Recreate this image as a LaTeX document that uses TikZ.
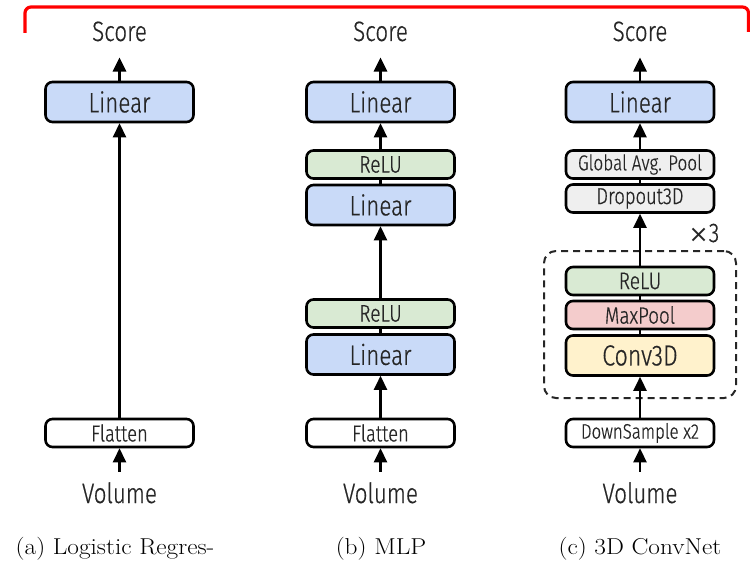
\documentclass[tikz,border=0pt]{standalone}
\usepackage{fontspec}
\usepackage{graphicx}
\usetikzlibrary{arrows.meta}
\newfontfamily\diagfont{Fira Sans Light}[FakeStretch=0.8, FakeBold=0.6]
\newfontfamily\symfont{DejaVu Sans}
\definecolor{linfill}{HTML}{C9DAF8}
\definecolor{relufill}{HTML}{D9EAD3}
\definecolor{poolfill}{HTML}{F4CCCC}
\definecolor{convfill}{HTML}{FFF2CC}
\definecolor{greyfill}{HTML}{EFEFEF}
\definecolor{inktext}{HTML}{262626}
\newcommand\fsz[1]{\diagfont\fontsize{#1}{#1}\selectfont}
\tikzset{
  blk/.style={draw=black, line width=2.6pt, rounded corners=7pt,
    minimum width=148pt, inner sep=0pt, text=inktext},
  bigblk/.style={blk, minimum height=40pt, font=\fsz{28}},
  smallblk/.style={blk, minimum height=28pt, font=\fsz{22}},
  toplabel/.style={font=\fsz{28}, text=inktext,
    anchor=base, inner xsep=0pt, inner ysep=16pt},
  botlabel/.style={font=\fsz{28}, text=inktext,
    anchor=base, inner xsep=0pt, inner ysep=10pt},
  arr/.style={line width=2.6pt, -{Triangle[width=13pt,length=14pt]}},
  lnk/.style={line width=2.6pt},
  caption/.style={font=\fontsize{23}{25}\selectfont, anchor=base, inner sep=0pt}
}
\begin{document}
\begin{tikzpicture}[x=1pt, y=-1pt]
\useasboundingbox (0,0) rectangle (750,567);

% red bracket across the top
\draw[red, line width=3.2pt, rounded corners=6pt] (25,33) -- (25,7) -- (748.5,7) -- (748.5,32);

% (a) logistic regression
\node[toplabel] (scoreA) at (119.5,41) {Score};
\node[bigblk, fill=linfill] (linA) at (119.5,102) {Linear};
\node[smallblk, fill=white, font=\fsz{23}] (flatA) at (119.5,433) {Flatten};
\node[botlabel] (volA) at (119.5,503) {Volume};
\draw[arr] (linA.north) -- (scoreA.south);
\draw[arr] (flatA.north) -- (linA.south);
\draw[arr] (volA.north) -- (flatA.south);

% (b) MLP
\node[toplabel] (scoreB) at (380.5,41) {Score};
\node[bigblk, fill=linfill] (linB2) at (380.5,102) {Linear};
\node[smallblk, fill=relufill, font=\fsz{24}] (reluB2) at (380.5,164.5) {ReLU};
\node[bigblk, fill=linfill] (linB1) at (380.5,205) {Linear};
\node[smallblk, fill=relufill, font=\fsz{24}] (reluB1) at (380.5,313.5) {ReLU};
\node[bigblk, fill=linfill] (linB0) at (380.5,354.5) {Linear};
\node[smallblk, fill=white, font=\fsz{23}] (flatB) at (380.5,433) {Flatten};
\node[botlabel] (volB) at (380.5,503) {Volume};
\draw[arr] (linB2.north) -- (scoreB.south);
\draw[arr] (reluB2.north) -- (linB2.south);
\draw[lnk] (linB1.north) -- (reluB2.south);
\draw[arr] (reluB1.north) -- (linB1.south);
\draw[lnk] (linB0.north) -- (reluB1.south);
\draw[arr] (flatB.north) -- (linB0.south);
\draw[arr] (volB.north) -- (flatB.south);

% (c) 3D ConvNet
\node[draw=black!85, line width=2pt, dash pattern=on 7pt off 5pt, rounded corners=12pt,
  minimum width=192pt, minimum height=147pt, inner sep=0pt] (rep) at (640,324.5) {};
\node[text=inktext, inner sep=0pt, anchor=base] (times) at (704,242)
  {{\symfont\fontsize{24}{24}\selectfont ×}{\fsz{27}3}};
\node[toplabel] (scoreC) at (640,41) {Score};
\node[bigblk, fill=linfill] (linC) at (640,102) {Linear};
\node[smallblk, fill=greyfill, font=\fsz{21.5}] (gap) at (640,164.5) {Global Avg. Pool};
\node[smallblk, fill=greyfill, font=\fsz{23}] (drop) at (640,198.5) {Dropout3D};
\node[smallblk, fill=relufill, font=\fsz{24}] (reluC) at (640,281) {ReLU};
\node[smallblk, fill=poolfill, font=\fsz{23.5}] (pool) at (640,315) {MaxPool};
\node[bigblk, fill=convfill, font=\fsz{29}] (conv) at (640,355.5) {Conv3D};
\node[smallblk, fill=white, font=\fsz{21}] (down) at (640,433) {DownSample x2};
\node[botlabel] (volC) at (640,503) {Volume};
\draw[arr] (linC.north) -- (scoreC.south);
\draw[arr] (gap.north) -- (linC.south);
\draw[lnk] (drop.north) -- (gap.south);
\draw[arr] (reluC.north) -- (drop.south);
\draw[lnk] (pool.north) -- (reluC.south);
\draw[lnk] (conv.north) -- (pool.south);
\draw[arr] (down.north) -- (conv.south);
\draw[arr] (volC.north) -- (down.south);

% sub-figure captions
\node[caption] (capA) at (115,554) {\scalebox{1.1}[1]{(a) Logistic Regres-}};
\node[caption] (capB) at (381,554) {\scalebox{1.1}[1]{(b) MLP}};
\node[caption] (capC) at (640,554) {\scalebox{1.1}[1]{(c) 3D ConvNet}};
\end{tikzpicture}
\end{document}
